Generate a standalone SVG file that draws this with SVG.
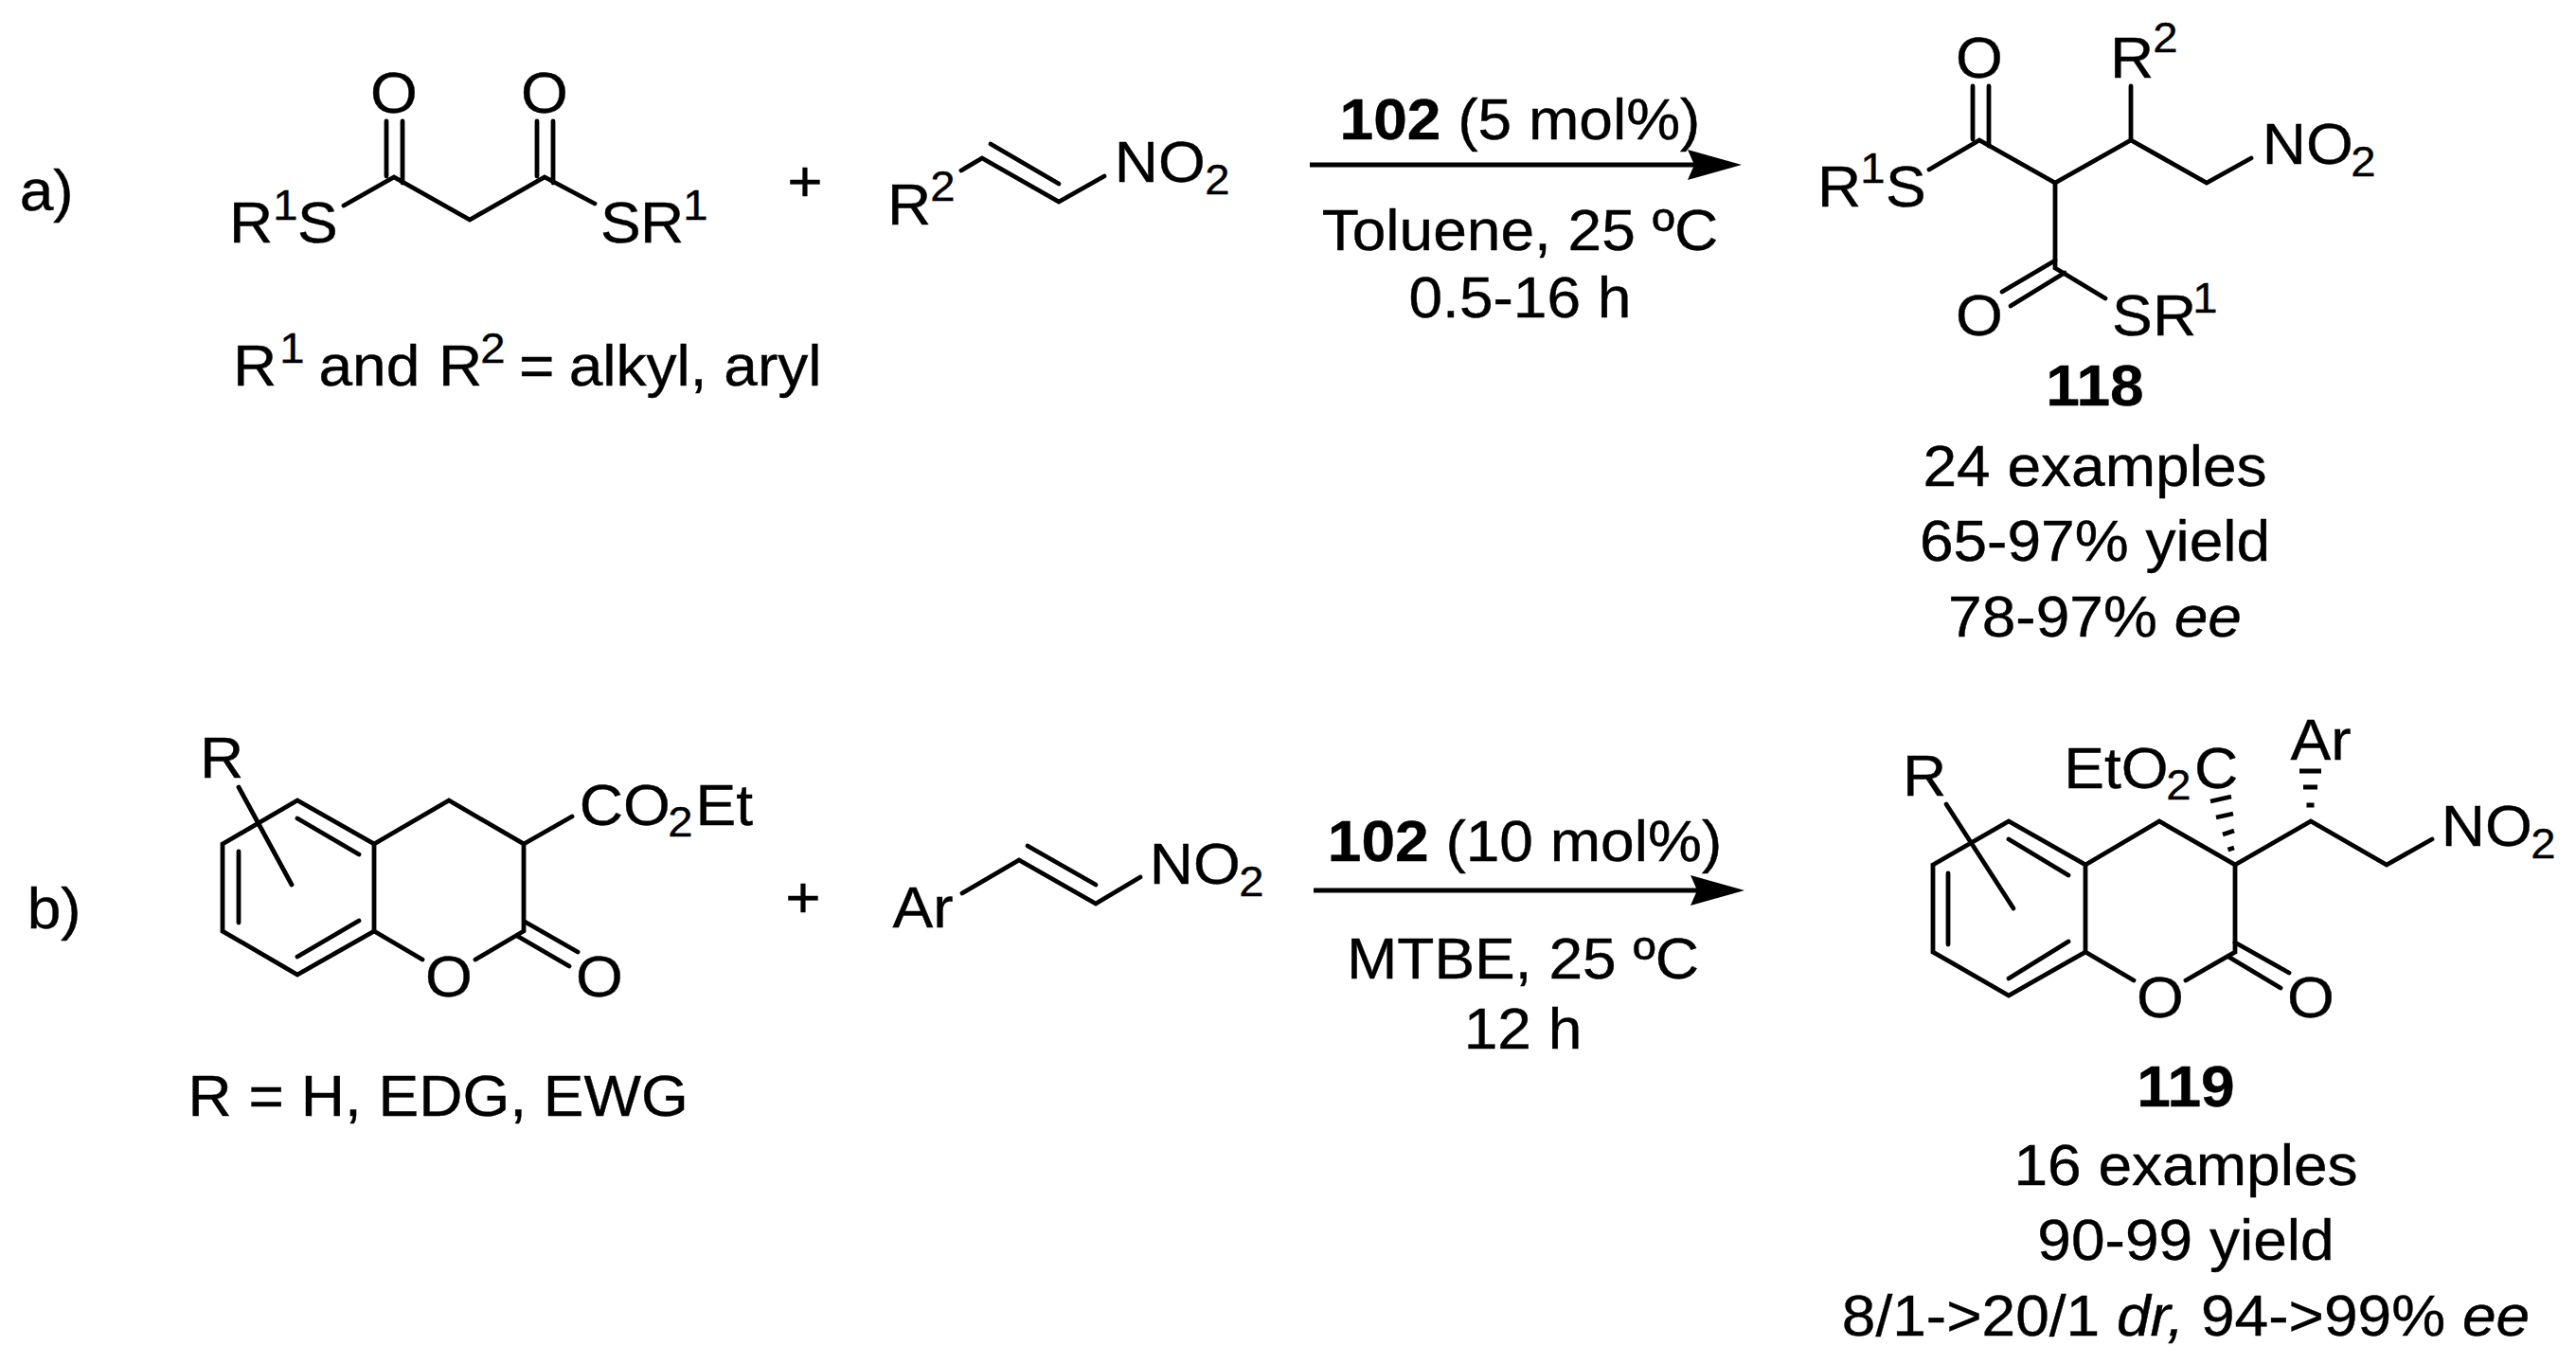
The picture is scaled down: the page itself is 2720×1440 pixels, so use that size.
<svg xmlns="http://www.w3.org/2000/svg" width="2720" height="1440" viewBox="0 0 2720 1440">
<style>
text{font-family:"Liberation Sans",Arial,sans-serif;font-size:61px;fill:#000;stroke:#000;stroke-width:.4;transform-box:fill-box;transform-origin:center;transform:scaleX(1.05)}
.s{font-size:45px}
.b{font-weight:bold}
.i{font-style:italic}
.m{text-anchor:middle}
.bond{fill:none;stroke:#000;stroke-width:4.8;stroke-linecap:round;stroke-linejoin:miter}
.hash{fill:none;stroke:#000;stroke-width:4.8;stroke-linecap:butt}
.arrow{fill:none;stroke:#000;stroke-width:5}
</style>
<defs>
<marker id="head" markerUnits="userSpaceOnUse" markerWidth="60" markerHeight="34" refX="10" refY="16" orient="auto">
<path d="M57 16L0 0L7 16L0 32Z" fill="#000"/>
</marker>
</defs>
<rect width="2720" height="1440" fill="#fff"/>

<g id="label-a"><text x="22" y="222">a)</text></g>
<g id="label-b"><text x="30" y="980">b)</text></g>

<g id="malonate">
<path class="bond" d="M363 217L416 187L496 232L575 187L628 215"/>
<path class="bond" d="M408 128V186M425 128V193M567 128V186M584 128V193"/>
<text class="m" x="416" y="119">O</text>
<text class="m" x="575" y="119">O</text>
<text x="243" y="256">R</text><text class="s" x="289" y="232">1</text><text x="315" y="256">S</text>
<text x="635" y="256">S</text><text x="677" y="256">R</text><text class="s" x="722" y="232">1</text>
</g>
<g id="note-a"><text x="247" y="407">R</text><text class="s" x="296" y="383">1</text><text x="339" y="407">and</text><text x="464" y="407">R</text><text class="s" x="508" y="383">2</text><text x="549" y="407">=</text><text x="607" y="407">alkyl, aryl</text></g>

<g id="plus-a"><text class="m" x="850" y="212">+</text></g>

<g id="nitroalkene-a">
<path class="bond" d="M1015 180L1037 167L1118 213L1166 186"/>
<path class="bond" d="M1046 152L1118 194"/>
<text x="938" y="237">R</text><text class="s" x="983" y="212">2</text>
<text x="1179" y="192">NO</text><text class="s" x="1273" y="205">2</text>
</g>

<g id="conditions-a">
<text class="m" x="1605" y="147"><tspan class="b">102</tspan> (5 mol%)</text>
<text class="m" x="1605" y="264">Toluene, 25 ºC</text>
<text class="m" x="1605" y="335">0.5-16 h</text>
</g>

<g id="product-118">
<path class="bond" d="M2037 179L2090 148L2170 193L2250 148L2330 193L2377 167"/>
<path class="bond" d="M2170 193V283L2223 315"/>
<path class="bond" d="M2083 91V147M2100 91V154M2250 91V148"/>
<path class="bond" d="M2170 275L2114 308M2180 288L2123 323"/>
<text class="m" x="2090" y="82">O</text>
<text x="2229" y="82">R</text><text class="s" x="2274" y="55">2</text>
<text x="1920" y="218">R</text><text class="s" x="1965" y="193">1</text><text x="1992" y="218">S</text>
<text x="2391" y="173">NO</text><text class="s" x="2483" y="186">2</text>
<text class="m" x="2090" y="354">O</text>
<text x="2231" y="354">S</text><text x="2274" y="354">R</text><text class="s" x="2316" y="330">1</text>
<text class="m b" x="2212" y="428">118</text>
<text class="m" x="2212" y="513">24 examples</text>
<text class="m" x="2212" y="592">65-97% yield</text>
<text class="m" x="2212" y="672">78-97% <tspan class="i">ee</tspan></text>
</g>

<g id="chromanone">
<path class="bond" d="M235 891L314 845L395 891V983L314 1029L235 983Z"/>
<path class="bond" d="M314 864L379 902M252 899V974M314 1010L379 972"/>
<path class="bond" d="M252 831L308 934"/>
<path class="bond" d="M395 891L474 845L553 891V983L502 1013M395 983L446 1013M553 891L604 862"/>
<path class="bond" d="M554 973L610 1005M546 988L601 1020"/>
<text x="212" y="821">R</text>
<text x="614" y="871">CO</text><text class="s" x="706" y="883">2</text><text x="736" y="871">Et</text>
<text class="m" x="474" y="1052">O</text>
<text class="m" x="633" y="1052">O</text>
</g>
<g id="note-b"><text x="211" y="1178">R = H, EDG, EWG</text></g>

<g id="plus-b"><text class="m" x="848" y="968">+</text></g>

<g id="nitroalkene-b">
<path class="bond" d="M1016 943L1076 908L1157 954L1204 926"/>
<path class="bond" d="M1085 893L1157 934"/>
<text x="944" y="979">Ar</text>
<text x="1216" y="933">NO</text><text class="s" x="1309" y="946">2</text>
</g>

<g id="conditions-b">
<text class="m" x="1610" y="909"><tspan class="b">102</tspan> (10 mol%)</text>
<text class="m" x="1608" y="1033">MTBE, 25 ºC</text>
<text class="m" x="1608" y="1107">12 h</text>
</g>

<g id="product-119">
<path class="bond" d="M2041 913L2121 867L2202 913V1005L2121 1051L2041 1005Z"/>
<path class="bond" d="M2121 886L2184 924M2057 922V997M2121 1033L2184 994"/>
<path class="bond" d="M2055 849L2126 959"/>
<path class="bond" d="M2202 913L2280 867L2360 913V1005L2308 1035M2202 1005L2253 1035"/>
<path class="bond" d="M2360 995L2417 1027M2353 1010L2408 1043"/>
<path class="bond" d="M2360 913L2440 867L2520 913L2568 886"/>
<path class="hash" d="M2334 846L2356 841M2340 863L2358 859M2347 881L2359 877M2352.5 897L2359 895"/>
<path class="hash" d="M2428 814H2451M2432 831H2447M2435.5 850H2443.5"/>
<text x="2010" y="840">R</text>
<text x="2182" y="832">EtO</text><text class="s" x="2288" y="844">2</text><text x="2318" y="832">C</text>
<text x="2420" y="802">Ar</text>
<text x="2580" y="893">NO</text><text class="s" x="2673" y="906">2</text>
<text class="m" x="2281" y="1074">O</text>
<text class="m" x="2440" y="1074">O</text>
<text class="m b" x="2308" y="1168">119</text>
<text class="m" x="2308" y="1251">16 examples</text>
<text class="m" x="2308" y="1330">90-99 yield</text>
<text class="m" x="2308" y="1410">8/1-&gt;20/1 <tspan class="i">dr,</tspan> 94-&gt;99% <tspan class="i">ee</tspan></text>
</g>

<g id="connectors">
<path class="arrow" marker-end="url(#head)" d="M1383 174H1792"/>
<path class="arrow" marker-end="url(#head)" d="M1387 940H1795"/>
</g>
</svg>
